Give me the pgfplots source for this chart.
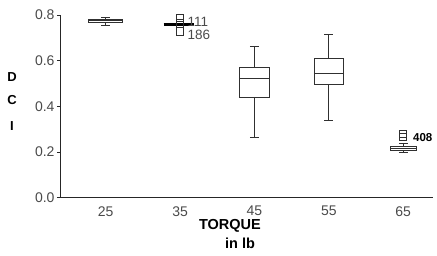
\documentclass[border=0pt]{standalone}
\usepackage{fontspec}
\setmainfont{Liberation Sans}
\usepackage{pgfplots}
\pgfplotsset{compat=1.18}
\usepgfplotslibrary{statistics}
\definecolor{tickgray}{HTML}{4A4A4A}
\definecolor{boxcol}{HTML}{303030}
\begin{document}
\begin{tikzpicture}
\useasboundingbox (-61pt,-57.3pt) rectangle (376pt,197.7pt);
\begin{axis}[
  at={(0,0)}, anchor=south west,
  scale only axis, width=372pt, height=182.7pt,
  xmin=0.4, xmax=5.4, ymin=0, ymax=0.8,
  axis x line=bottom, axis y line=left,
  axis line style={-, line width=1pt, black!85},
  xtick={1,2,3,4,5}, xticklabels={25,35,45,55,65},
  ytick={0,0.2,0.4,0.6,0.8},
  xtick style={draw=none},
  ytick style={line width=0.8pt, black!85},
  tick align=outside, major tick length=4pt,
  /pgf/number format/assume math mode=true,
  /pgf/number format/.cd, fixed, fixed zerofill, precision=1, /pgfplots/.cd,
  ticklabel style={font=\fontsize{14}{16}\selectfont, text=tickgray},
  yticklabel style={xshift=1pt},
  xticklabel style={yshift=-1pt},
  clip=false,
  boxplot/draw direction=y,
]
% 25
\addplot[boxcol, line width=0.9pt, boxplot prepared={draw position=1, median=0.774, upper quartile=0.781, lower quartile=0.766, upper whisker=0.790, lower whisker=0.756, box extend=0.45, whisker extend=0.12}] coordinates {};
% 35 (collapsed box)
\addplot[black, line width=3pt] coordinates {(1.78,0.760) (2.19,0.760)};
\addplot[only marks, mark=square, mark size=3.8pt, boxcol, line width=0.8pt] coordinates {(2,0.788) (2,0.762) (2,0.727)};
% 45
\addplot[boxcol, line width=0.9pt, boxplot prepared={draw position=3, median=0.523, upper quartile=0.571, lower quartile=0.441, upper whisker=0.661, lower whisker=0.264, box extend=0.4, whisker extend=0.12}] coordinates {};
% 55
\addplot[boxcol, line width=0.9pt, boxplot prepared={draw position=4, median=0.546, upper quartile=0.610, lower quartile=0.495, upper whisker=0.715, lower whisker=0.339, box extend=0.4, whisker extend=0.12}] coordinates {};
% 65
\addplot[boxcol, line width=0.9pt, boxplot prepared={draw position=5, median=0.217, upper quartile=0.226, lower quartile=0.208, upper whisker=0.238, lower whisker=0.199, box extend=0.35, whisker extend=0.12}] coordinates {};
\addplot[only marks, mark=square, mark size=3.5pt, boxcol, line width=0.8pt] coordinates {(5,0.268) (5,0.278)};
% outlier labels
\node[anchor=west, inner sep=0pt, text=tickgray, font=\fontsize{13.5}{14}\selectfont] at (axis cs:2.1,0.769) {111};
\node[anchor=west, inner sep=0pt, text=tickgray, font=\fontsize{13.5}{14}\selectfont] at (axis cs:2.1,0.714) {186};
\node[anchor=west, inner sep=0pt, text=black, font=\bfseries\fontsize{11.5}{12}\selectfont] at (axis cs:5.13,0.265) {408};
\end{axis}
\node[font=\bfseries\fontsize{13}{15}\selectfont] at (-49pt,120.7pt) {D};
\node[font=\bfseries\fontsize{13}{15}\selectfont] at (-49pt,97.7pt) {C};
\node[font=\bfseries\fontsize{13}{15}\selectfont] at (-49pt,71.7pt) {I};
\node[font=\bfseries\fontsize{14.5}{16}\selectfont] at (169pt,-28.3pt) {TORQUE};
\node[font=\bfseries\fontsize{14.5}{16}\selectfont] at (179pt,-45.3pt) {in lb};
\end{tikzpicture}
\end{document}
